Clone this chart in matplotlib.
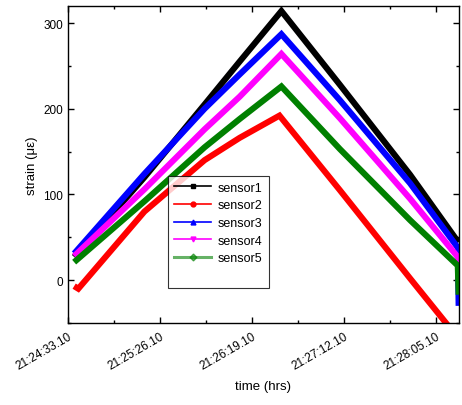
import matplotlib
matplotlib.use("Agg")
import matplotlib.pyplot as plt
from matplotlib.lines import Line2D
from matplotlib.ticker import MultipleLocator

plt.rcParams['font.family'] = ['Liberation Sans', 'DejaVu Sans']

# time in seconds after 21:24:33.10
t_s1 = [3.6, 44.1, 78.8, 99.0, 123.1, 156.8, 197.3, 225.2]
s1 = [27, 120, 205, 255, 314, 228, 123, 44]

t_s2 = [3.6, 6.0, 44.1, 78.8, 99.0, 122.0, 156.8, 197.3, 220.0]
s2 = [-7, -10, 80, 140, 166, 192, 105, 2, -55]

t_s3 = [3.6, 44.1, 78.8, 99.0, 123.1, 156.8, 197.3, 224.8, 225.3]
s3 = [31, 124, 200, 240, 287, 210, 113, 38, -30]

t_s4 = [3.6, 44.1, 78.8, 99.0, 123.1, 156.8, 197.3, 224.8, 225.3]
s4 = [28, 106, 176, 214, 264, 189, 95, 27, 0]

t_s5 = [3.6, 44.1, 78.8, 99.0, 123.1, 156.8, 197.3, 224.8, 225.3]
s5 = [21, 92, 155, 188, 226, 153, 70, 17, -17]

names = ["sensor1", "sensor2", "sensor3", "sensor4", "sensor5"]
colors = ["black", "#ff0000", "#0000ff", "#ff00ff", "#008000"]
markers = ["s", "o", "^", "v", "D"]

tick_pos = [0, 53, 106, 159, 212]
tick_labels = ["21:24:33.10", "21:25:26.10", "21:26:19.10", "21:27:12.10", "21:28:05.10"]

fig = plt.figure(figsize=(4.62, 4.06), dpi=100)
ax = fig.add_axes([0.147, 0.202, 0.8465, 0.781])

series = [(t_s1, s1), (t_s2, s2), (t_s3, s3), (t_s4, s4), (t_s5, s5)]
for (t, s), c in zip(series, colors):
    ax.plot(t, s, color=c, lw=4.4, solid_capstyle='butt', solid_joinstyle='miter')

ax.set_xlim(0, 225.5)
ax.set_ylim(-50, 320)
ax.set_xticks(tick_pos)
ax.set_xticklabels(tick_labels, rotation=30, ha='right', rotation_mode='anchor', fontsize=8)
ax.xaxis.set_minor_locator(MultipleLocator(26.5))
ax.yaxis.set_major_locator(MultipleLocator(100))
ax.yaxis.set_minor_locator(MultipleLocator(50))
ax.tick_params(which='both', direction='in', top=True, right=True, labelsize=8.5)
ax.tick_params(axis='x', pad=5)
ax.tick_params(which='major', length=4, width=1)
ax.tick_params(which='minor', length=2.5, width=1)
for sp in ax.spines.values():
    sp.set_linewidth(1)

ax.set_xlabel("time (hrs)", fontsize=9.5, labelpad=6)
ax.set_ylabel("strain (με)", fontsize=9.5)

handles = [Line2D([], [], color=c, marker=m, markersize=3.5, lw=1.2 if i < 4 else 2.2,
                  alpha=1 if i < 4 else 0.6)
           for i, (c, m) in enumerate(zip(colors, markers))]
# blank row at the bottom of the legend box, as in the original
handles.append(Line2D([], [], alpha=0))
leg = ax.legend(handles, names + [" "], loc='upper left', bbox_to_anchor=(0.255, 0.465),
                fontsize=9, frameon=True, fancybox=False, edgecolor='black',
                handlelength=3.0, borderpad=0.5, labelspacing=0.45, handletextpad=0.5,
                borderaxespad=0)
leg.get_frame().set_linewidth(0.8)

fig.savefig("out.png", dpi=100)
